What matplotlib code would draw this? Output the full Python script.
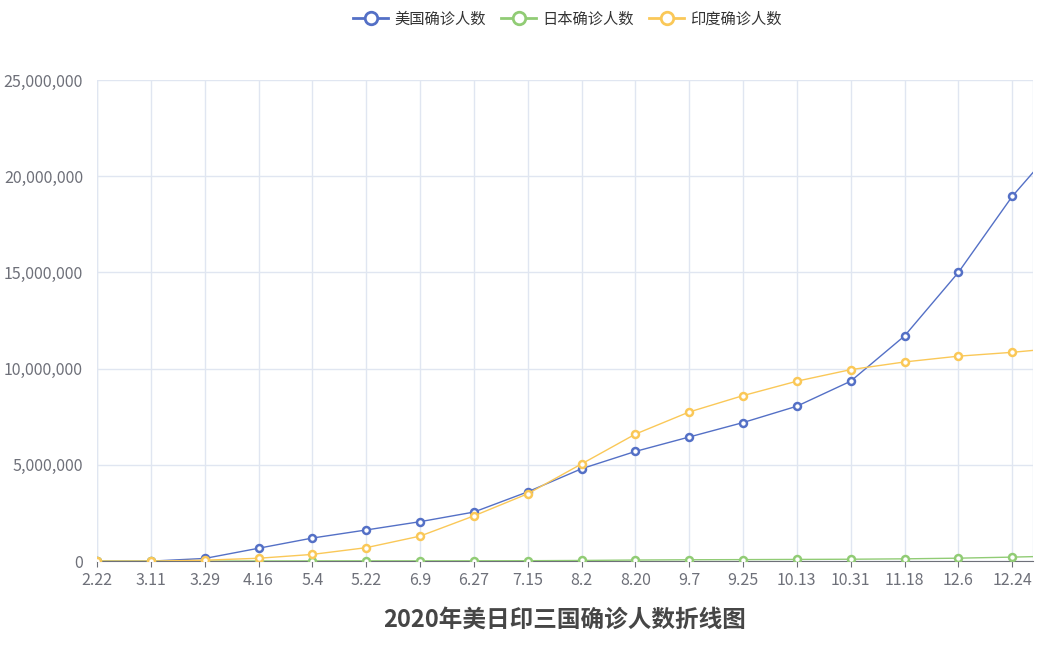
import datetime as dt
import matplotlib.pyplot as plt
from matplotlib.lines import Line2D

plt.rcParams['font.family'] = ['Noto Sans CJK SC', 'DejaVu Sans']

# dates of the marked points (every 18 days) plus the final day
dates = ['2020-02-22', '2020-03-11', '2020-03-29', '2020-04-16', '2020-05-04',
         '2020-05-22', '2020-06-09', '2020-06-27', '2020-07-15', '2020-08-02',
         '2020-08-20', '2020-09-07', '2020-09-25', '2020-10-13', '2020-10-31',
         '2020-11-18', '2020-12-06', '2020-12-24', '2020-12-31']
tick_labels = ['2.22', '3.11', '3.29', '4.16', '5.4', '5.22', '6.9', '6.27', '7.15',
               '8.2', '8.20', '9.7', '9.25', '10.13', '10.31', '11.18', '12.6', '12.24']

us = [0, 1000, 140000, 670000, 1200000, 1620000, 2050000, 2550000, 3600000, 4800000,
      5700000, 6450000, 7200000, 8050000, 9350000, 11700000, 15000000, 18950000, 20200000]
japan = [100, 500, 2000, 9000, 15000, 16500, 17000, 18500, 23000, 36000,
         58000, 72000, 80000, 90000, 100000, 120000, 155000, 210000, 235000]
india = [0, 60, 50000, 150000, 350000, 700000, 1300000, 2350000, 3500000, 5050000,
         6600000, 7750000, 8600000, 9350000, 9950000, 10350000, 10650000, 10850000, 10950000]

x = [dt.datetime.strptime(d, '%Y-%m-%d') for d in dates]

fig = plt.figure(figsize=(10.51, 6.45), dpi=100)
ax = fig.add_axes([0.0923, 0.130, 0.983 - 0.0923, 0.746])

series = [('美国确诊人数', us, '#5470c6'),
          ('日本确诊人数', japan, '#91cc75'),
          ('印度确诊人数', india, '#fac858')]
handles = []
for name, vals, c in series:
    ax.plot(x, vals, color=c, lw=1, marker='o', ms=5, mfc='white', mec=c, mew=1.8,
            markevery=list(range(len(x) - 1)), zorder=3)
    handles.append(Line2D([], [], color=c, lw=2, marker='o', ms=9, mfc='white',
                          mec=c, mew=2, label=name))

ax.set_xlim(x[0], x[-1])
ax.set_ylim(0, 25000000)
ax.set_xticks(x[:-1])
ax.set_xticklabels(tick_labels)
ax.set_yticks(range(0, 25000001, 5000000))
ax.yaxis.set_major_formatter(plt.FuncFormatter(lambda v, p: f'{int(v):,}'))
ax.tick_params(colors='#6e7079', labelsize=11.5)
ax.tick_params(axis='y', length=0, pad=10)
ax.tick_params(axis='x', length=4, color='#6e7079')
ax.grid(True, color='#e0e6f1', lw=1)
for s in ['top', 'right', 'left']:
    ax.spines[s].set_visible(False)
ax.spines['bottom'].set_color('#6e7079')
ax.axvline(x[0], color='#e0e6f1', lw=1)
ax.axvline(x[-1], color='#e0e6f1', lw=1)

fig.legend(handles=handles, loc='upper center', bbox_to_anchor=(0.54, 1.005), ncol=3,
           frameon=False, fontsize=11, handlelength=2.3, columnspacing=1.0,
           handletextpad=0.4, labelcolor='#333333')
fig.text(0.5376, 0.028, '2020年美日印三国确诊人数折线图', ha='center', fontsize=17,
         fontweight='bold', color='#464646')

fig.savefig('out.png', dpi=100)
